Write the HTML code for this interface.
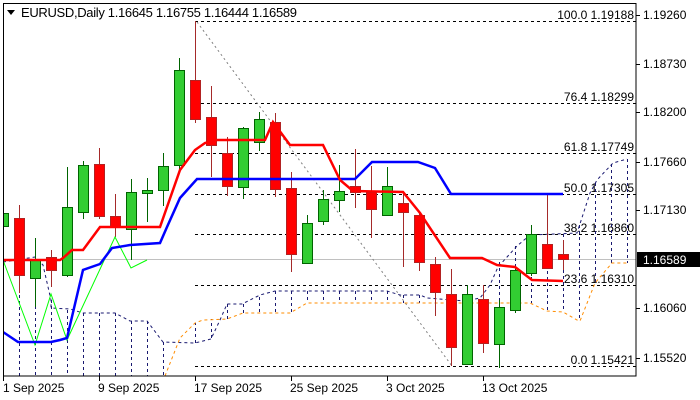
<!DOCTYPE html>
<html><head><meta charset="utf-8"><style>
html,body{margin:0;padding:0;background:#fff;}
svg{display:block;font-family:"Liberation Sans",sans-serif;}
</style></head><body>
<svg width="700" height="400" viewBox="0 0 700 400" xmlns="http://www.w3.org/2000/svg">
<rect width="700" height="400" fill="#fff"/>
<line x1="3" y1="259.5" x2="636" y2="259.5" stroke="#c0c0c0" stroke-width="1"/>
<g stroke="#000" stroke-width="1" stroke-dasharray="3,3">
<line x1="195" y1="21.5" x2="636" y2="21.5"/>
<line x1="195" y1="103.5" x2="636" y2="103.5"/>
<line x1="195" y1="153.5" x2="636" y2="153.5"/>
<line x1="195" y1="194.5" x2="636" y2="194.5"/>
<line x1="195" y1="234.5" x2="636" y2="234.5"/>
<line x1="195" y1="285.5" x2="636" y2="285.5"/>
<line x1="195" y1="366.5" x2="636" y2="366.5"/>
</g>
<line x1="197" y1="22" x2="452" y2="366" stroke="#808080" stroke-width="1" stroke-dasharray="2,3"/>
<g font-size="12" fill="#000" text-anchor="end">
<text x="634" y="19">100.0 1.19188</text>
<text x="634" y="101">76.4 1.18299</text>
<text x="634" y="151">61.8 1.17749</text>
<text x="634" y="192">50.0 1.17305</text>
<text x="634" y="232">38.2 1.16860</text>
<text x="634" y="283">23.6 1.16310</text>
<text x="634" y="364">0.0 1.15421</text>
</g>
<g stroke="#191970" stroke-width="1" stroke-dasharray="3,3">
<line x1="3.5" y1="262" x2="3.5" y2="376"/><line x1="19.5" y1="259" x2="19.5" y2="376"/>
<line x1="35.5" y1="258" x2="35.5" y2="376"/><line x1="51.5" y1="300" x2="51.5" y2="376"/>
<line x1="67.5" y1="310" x2="67.5" y2="376"/><line x1="83.5" y1="313" x2="83.5" y2="376"/>
<line x1="99.5" y1="313" x2="99.5" y2="376"/><line x1="115.5" y1="313" x2="115.5" y2="376"/>
<line x1="131.5" y1="321" x2="131.5" y2="376"/><line x1="147.5" y1="321" x2="147.5" y2="376"/>
<line x1="163.5" y1="342" x2="163.5" y2="376"/>
<line x1="195.5" y1="343" x2="195.5" y2="323"/><line x1="211.5" y1="338" x2="211.5" y2="319"/>
<line x1="227.5" y1="304" x2="227.5" y2="319"/><line x1="243.5" y1="304" x2="243.5" y2="313"/>
<line x1="259.5" y1="297" x2="259.5" y2="313"/><line x1="275.5" y1="291" x2="275.5" y2="313"/>
<line x1="291.5" y1="291" x2="291.5" y2="313"/><line x1="307.5" y1="291" x2="307.5" y2="303"/>
<line x1="323.5" y1="291" x2="323.5" y2="303"/><line x1="339.5" y1="291" x2="339.5" y2="303"/>
<line x1="355.5" y1="291" x2="355.5" y2="303"/><line x1="371.5" y1="291" x2="371.5" y2="303"/>
<line x1="387.5" y1="291" x2="387.5" y2="303"/><line x1="403.5" y1="295" x2="403.5" y2="303"/>
<line x1="419.5" y1="295" x2="419.5" y2="303"/><line x1="483.5" y1="290" x2="483.5" y2="303"/>
<line x1="499.5" y1="262" x2="499.5" y2="303"/><line x1="515.5" y1="246" x2="515.5" y2="303"/>
<line x1="531.5" y1="235" x2="531.5" y2="303"/><line x1="547.5" y1="235" x2="547.5" y2="311"/>
<line x1="563.5" y1="234" x2="563.5" y2="312"/><line x1="579.5" y1="225" x2="579.5" y2="320"/>
<line x1="595.5" y1="183" x2="595.5" y2="283"/><line x1="611.5" y1="164" x2="611.5" y2="263"/>
<line x1="627.5" y1="159" x2="627.5" y2="263"/>
</g>
<polyline fill="none" stroke="#191970" stroke-width="1" stroke-dasharray="3,3" points="3,262 35,257 43,265 51,300 51,308 70,309 83,313 115,313 130,321 147,321 163,342 195,343 211,339 220,320 227,304 242,304 260,295 275,291 387,291 400,295 420,295 427,298 465,301 480,298 490,285 498,267 517,246 530,235 577,233 590,193 597,180 613,163 627,159"/>
<polyline fill="none" stroke="#FF8C00" stroke-width="1" stroke-dasharray="3,3" points="165,376 180,338 195,323 203,320 227,319 243,313 290,313 307,303 530,303 547,311 563,312 577,320 580,321 595,283 612,263 627,263"/>
<g stroke-width="1">
<g stroke="#006400">
<line x1="3.5" y1="188" x2="3.5" y2="237"/><line x1="35.5" y1="238" x2="35.5" y2="307"/>
<line x1="67.5" y1="167" x2="67.5" y2="277"/><line x1="83.5" y1="161" x2="83.5" y2="219"/>
<line x1="131.5" y1="179" x2="131.5" y2="260"/><line x1="147.5" y1="178" x2="147.5" y2="222"/>
<line x1="163.5" y1="153" x2="163.5" y2="206"/><line x1="179.5" y1="58" x2="179.5" y2="170"/>
<line x1="243.5" y1="127" x2="243.5" y2="199"/><line x1="259.5" y1="112" x2="259.5" y2="151"/>
<line x1="307.5" y1="215" x2="307.5" y2="264"/><line x1="323.5" y1="190" x2="323.5" y2="225"/>
<line x1="339.5" y1="165" x2="339.5" y2="212"/><line x1="387.5" y1="167" x2="387.5" y2="216"/>
<line x1="467.5" y1="285" x2="467.5" y2="365"/><line x1="499.5" y1="300" x2="499.5" y2="368"/>
<line x1="515.5" y1="266" x2="515.5" y2="313"/><line x1="531.5" y1="225" x2="531.5" y2="276"/>
</g>
<g stroke="#A52A2A">
<line x1="19.5" y1="205" x2="19.5" y2="293"/><line x1="51.5" y1="250" x2="51.5" y2="287"/>
<line x1="99.5" y1="148" x2="99.5" y2="219"/><line x1="115.5" y1="194" x2="115.5" y2="237"/>
<line x1="195.5" y1="21" x2="195.5" y2="123"/><line x1="211.5" y1="86" x2="211.5" y2="177"/>
<line x1="227.5" y1="137" x2="227.5" y2="196"/><line x1="275.5" y1="113" x2="275.5" y2="197"/>
<line x1="291.5" y1="172" x2="291.5" y2="272"/><line x1="355.5" y1="149" x2="355.5" y2="208"/>
<line x1="371.5" y1="166" x2="371.5" y2="238"/><line x1="403.5" y1="192" x2="403.5" y2="267"/>
<line x1="419.5" y1="212" x2="419.5" y2="271"/><line x1="435.5" y1="257" x2="435.5" y2="316"/>
<line x1="451.5" y1="269" x2="451.5" y2="366"/><line x1="483.5" y1="285" x2="483.5" y2="353"/>
<line x1="547.5" y1="195" x2="547.5" y2="268"/><line x1="563.5" y1="240" x2="563.5" y2="270"/>
</g>
<g fill="#32CD32" stroke="#006400">
<rect x="-1.5" y="213.5" width="10" height="13"/><rect x="30.5" y="259.5" width="10" height="19"/>
<rect x="62.5" y="207.5" width="10" height="68"/><rect x="78.5" y="165.5" width="10" height="47"/>
<rect x="126.5" y="192.5" width="10" height="37"/><rect x="142.5" y="190.5" width="10" height="3"/>
<rect x="158.5" y="166.5" width="10" height="24"/><rect x="174.5" y="70.5" width="10" height="95"/>
<rect x="238.5" y="128.5" width="10" height="59"/><rect x="254.5" y="119.5" width="10" height="23"/>
<rect x="302.5" y="223.5" width="10" height="40"/><rect x="318.5" y="199.5" width="10" height="22"/>
<rect x="334.5" y="191.5" width="10" height="9"/><rect x="382.5" y="186.5" width="10" height="29"/>
<rect x="462.5" y="294.5" width="10" height="70"/><rect x="494.5" y="307.5" width="10" height="37"/>
<rect x="510.5" y="270.5" width="10" height="40"/><rect x="526.5" y="234.5" width="10" height="39"/>
</g>
<g fill="#FF0000" stroke="#B22222">
<rect x="14.5" y="218.5" width="10" height="57"/><rect x="46.5" y="257.5" width="10" height="13"/>
<rect x="94.5" y="164.5" width="10" height="52"/><rect x="110.5" y="216.5" width="10" height="11"/>
<rect x="190.5" y="80.5" width="10" height="39"/><rect x="206.5" y="117.5" width="10" height="28"/>
<rect x="222.5" y="153.5" width="10" height="33"/><rect x="270.5" y="122.5" width="10" height="67"/>
<rect x="286.5" y="188.5" width="10" height="66"/><rect x="350.5" y="186.5" width="10" height="6"/>
<rect x="366.5" y="192.5" width="10" height="17"/><rect x="398.5" y="203.5" width="10" height="9"/>
<rect x="414.5" y="215.5" width="10" height="47"/><rect x="430.5" y="264.5" width="10" height="28"/>
<rect x="446.5" y="294.5" width="10" height="53"/><rect x="478.5" y="299.5" width="10" height="44"/>
<rect x="542.5" y="244.5" width="10" height="24"/><rect x="558.5" y="254.5" width="10" height="5"/>
</g>
</g>
<polyline fill="none" stroke="#00FF00" stroke-width="1" points="3,260 35,345 51,294 67,340 115,237 131,268 147,260"/>
<polyline fill="none" stroke="#0000FF" stroke-width="2.5" points="3,332 18,342 51,342 60,340 67,338 83,270 100,264 112,248 130,245 160,243 167,227 180,198 197,179 355,179 372,162 418,162 435,168 451,194 563,194"/>
<polyline fill="none" stroke="#FF0000" stroke-width="2.5" points="3,260 60,260 63,258 72,250 83,250 100,227 160,227 180,170 195,150 205,143 217,140 265,140 273,122 290,145 323,145 340,180 353,191 403,192 420,213 450,258 482,258 497,265 515,267 532,280 563,281"/>
<rect x="3.5" y="3.5" width="632.5" height="372.5" fill="none" stroke="#000" stroke-width="1"/>
<rect x="0" y="0" width="3" height="400" fill="#fff"/>
<line x1="3.5" y1="3" x2="3.5" y2="377" stroke="#000"/>
<g stroke="#000">
<line x1="636" y1="15.5" x2="640" y2="15.5"/><line x1="636" y1="64.5" x2="640" y2="64.5"/>
<line x1="636" y1="112.5" x2="640" y2="112.5"/><line x1="636" y1="162.5" x2="640" y2="162.5"/>
<line x1="636" y1="210.5" x2="640" y2="210.5"/><line x1="636" y1="308.5" x2="640" y2="308.5"/>
<line x1="636" y1="358.5" x2="640" y2="358.5"/>
<line x1="3.5" y1="376" x2="3.5" y2="381"/><line x1="99.5" y1="376" x2="99.5" y2="381"/>
<line x1="195.5" y1="376" x2="195.5" y2="381"/><line x1="291.5" y1="376" x2="291.5" y2="381"/>
<line x1="387.5" y1="376" x2="387.5" y2="381"/><line x1="483.5" y1="376" x2="483.5" y2="381"/>
</g>
<g font-size="12" fill="#000">
<text x="643" y="19">1.19260</text><text x="643" y="68">1.18730</text>
<text x="643" y="116">1.18200</text><text x="643" y="166">1.17660</text>
<text x="643" y="214">1.17130</text><text x="643" y="312">1.16060</text>
<text x="643" y="362">1.15520</text>
</g>
<rect x="637" y="252" width="63" height="15" fill="#000"/>
<text x="643" y="264" font-size="12" fill="#fff">1.16589</text>
<g font-size="12" fill="#000">
<text x="3" y="392">1 Sep 2025</text><text x="98" y="392">9 Sep 2025</text>
<text x="194" y="392">17 Sep 2025</text><text x="290" y="392">25 Sep 2025</text>
<text x="386" y="392">3 Oct 2025</text><text x="482" y="392">13 Oct 2025</text>
</g>
<polygon points="7,10 15,10 11,15" fill="#000"/>
<text x="21" y="17" font-size="13" fill="#000" textLength="276" lengthAdjust="spacing">EURUSD,Daily  1.16645 1.16755 1.16444 1.16589</text>
</svg>
</body></html>
